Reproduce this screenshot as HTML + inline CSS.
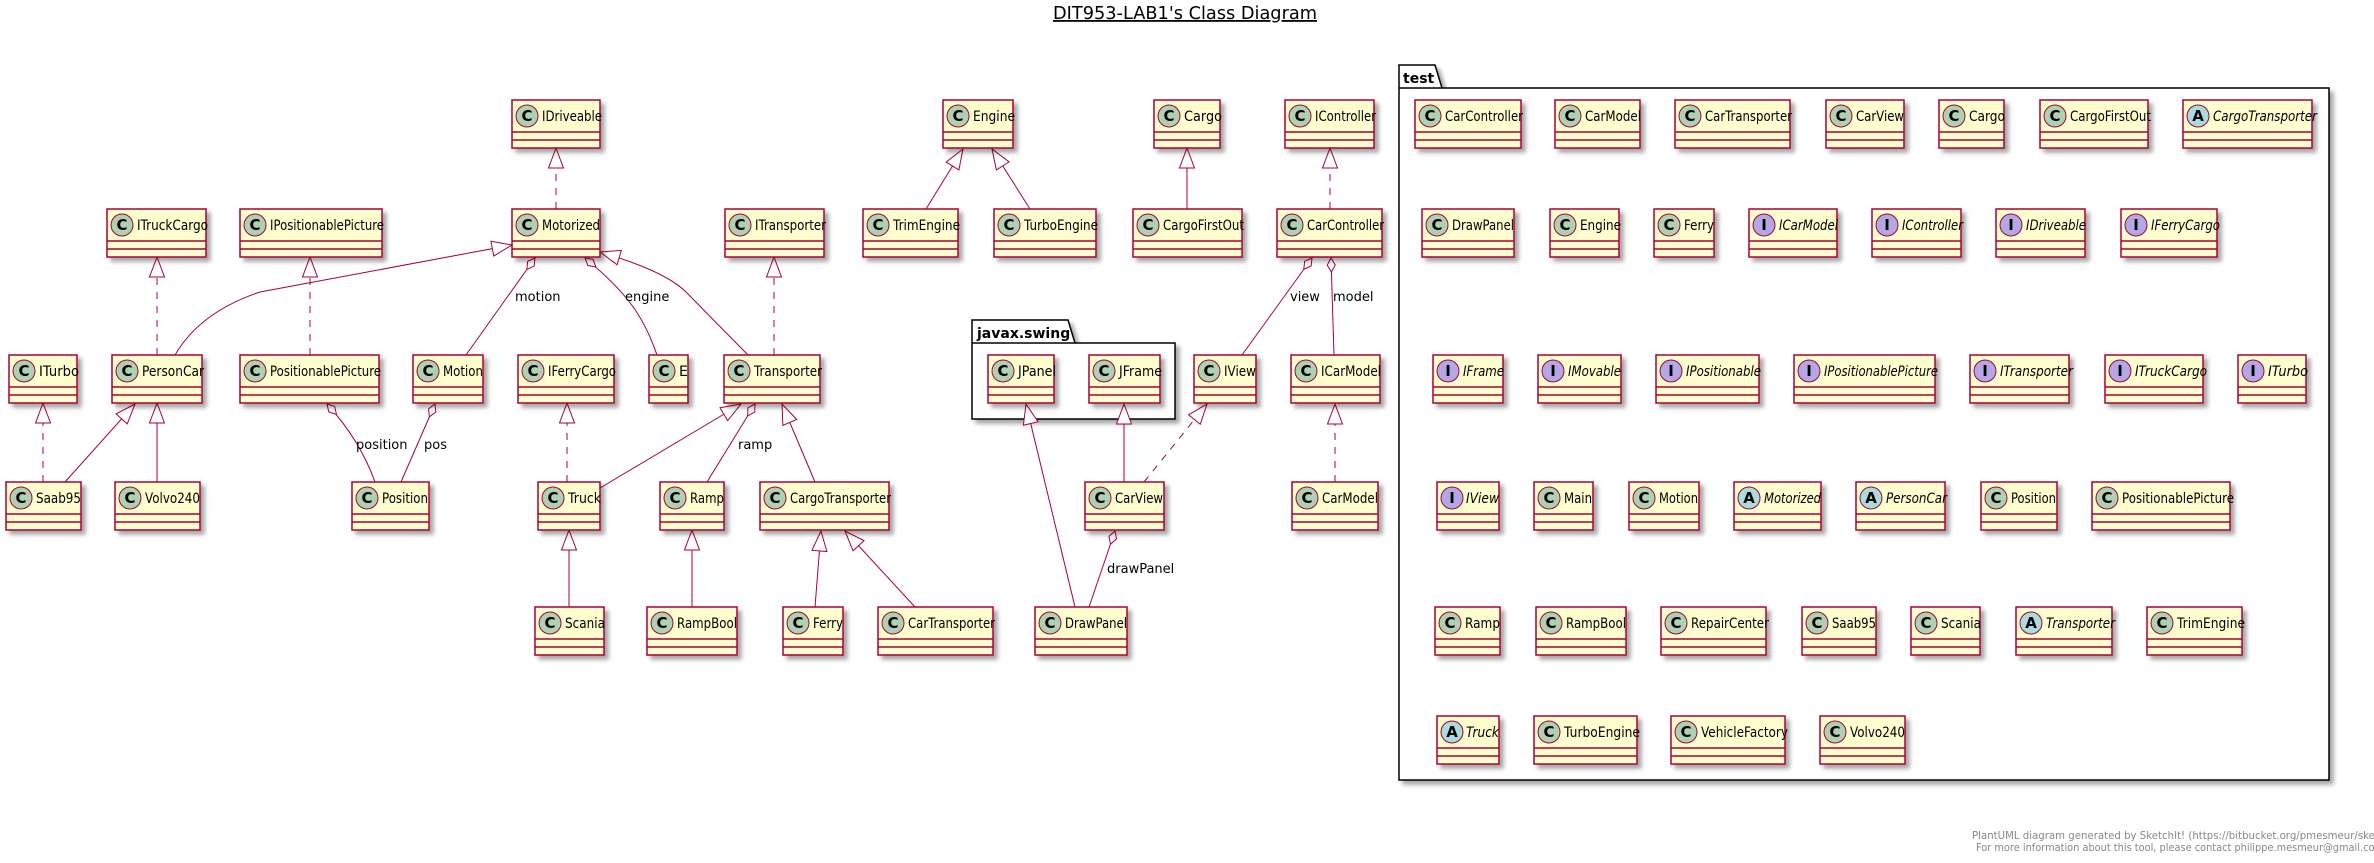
<!DOCTYPE html>
<html><head><meta charset="utf-8">
<style>
html,body{margin:0;padding:0;background:#fff;}
svg{display:block;}
.bx rect{fill:#FEFECE;stroke:#A80036;stroke-width:1.5;}
.bx line{stroke:#A80036;stroke-width:1.5;}
.n{font-family:"DejaVu Sans","Liberation Sans",sans-serif;font-size:14px;fill:#000;}
.it{font-style:italic;}
.ic{font-family:"DejaVu Sans","Liberation Sans",sans-serif;font-size:15px;font-weight:bold;fill:#000;text-anchor:middle;}
.e{fill:none;stroke:#A80036;stroke-width:1;}
.d{stroke-dasharray:7,7;}
.lb{font-family:"DejaVu Sans","Liberation Sans",sans-serif;font-size:13px;fill:#000;}
</style></head><body>
<svg width="2374" height="863" viewBox="0 0 2374 863" xmlns="http://www.w3.org/2000/svg">
<defs>
<filter id="sh" x="-10%" y="-10%" width="130%" height="140%"><feGaussianBlur in="SourceAlpha" stdDeviation="2"/><feOffset dx="4" dy="4"/><feComponentTransfer><feFuncA type="linear" slope="0.35"/></feComponentTransfer><feMerge><feMergeNode/><feMergeNode in="SourceGraphic"/></feMerge></filter>
<marker id="t" markerUnits="userSpaceOnUse" viewBox="-22 -10 24 20" refX="0" refY="0" markerWidth="24" markerHeight="20" orient="auto"><path d="M0,0 L-20,-7.5 L-20,7.5 Z" fill="#fff" stroke="#A80036" stroke-width="1"/></marker>
<marker id="dm" markerUnits="userSpaceOnUse" viewBox="-16 -6 18 12" refX="0" refY="0" markerWidth="18" markerHeight="12" orient="auto"><path d="M0,0 L-7,-4 L-14,0 L-7,4 Z" fill="#fff" stroke="#A80036" stroke-width="1"/></marker>
</defs>

<text x="1053" y="19" font-family="DejaVu Sans,Liberation Sans,sans-serif" font-size="18" textLength="264" lengthAdjust="spacingAndGlyphs" text-decoration="underline">DIT953-LAB1's Class Diagram</text>

<!-- packages -->
<g filter="url(#sh)">
<path d="M972,320 L1068,320 L1075,343 L1175,343 L1175,419 L972,419 Z" fill="#fff" stroke="#000" stroke-width="1.5"/>
<path d="M1399,65 L1435,65 L1442,88 L2329,88 L2329,780 L1399,780 Z" fill="#fff" stroke="#000" stroke-width="1.5"/>
</g>
<line x1="972" y1="343" x2="1075" y2="343" stroke="#000" stroke-width="1.5"/>
<line x1="1399" y1="88" x2="1442" y2="88" stroke="#000" stroke-width="1.5"/>
<text x="977" y="338" font-family="DejaVu Sans,Liberation Sans,sans-serif" font-size="14" font-weight="bold">javax.swing</text>
<text x="1403" y="83" font-family="DejaVu Sans,Liberation Sans,sans-serif" font-size="14" font-weight="bold">test</text>

<!-- edges -->
<g class="e">
<path class="d" d="M556,209 L556,148" marker-end="url(#t)"/>
<path class="d" d="M157,355 L157,257" marker-end="url(#t)"/>
<path class="d" d="M310,355 L310,257" marker-end="url(#t)"/>
<path d="M175,355 Q200,312 260,292 L512,245" marker-end="url(#t)"/>
<path d="M466,355 L535,258" marker-end="url(#dm)"/>
<path d="M657,355 C645,320 630,295 585,258" marker-end="url(#dm)"/>
<path d="M748,355 L686,292 Q665,271 600,252" marker-end="url(#t)"/>
<path class="d" d="M774,355 L774,257" marker-end="url(#t)"/>
<path class="d" d="M43,482 L43,403" marker-end="url(#t)"/>
<path d="M65,482 L135,404" marker-end="url(#t)"/>
<path d="M157,482 L157,403" marker-end="url(#t)"/>
<path d="M375,482 Q360,440 327,404" marker-end="url(#dm)"/>
<path d="M401,482 L435,404" marker-end="url(#dm)"/>
<path class="d" d="M567,482 L567,403" marker-end="url(#t)"/>
<path d="M600,488 L741,404" marker-end="url(#t)"/>
<path d="M707,482 L755,404" marker-end="url(#dm)"/>
<path d="M815,482 L782,404" marker-end="url(#t)"/>
<path d="M569,607 L569,530" marker-end="url(#t)"/>
<path d="M692,607 L692,530" marker-end="url(#t)"/>
<path d="M926,209 L963,149" marker-end="url(#t)"/>
<path d="M1030,209 L992,149" marker-end="url(#t)"/>
<path d="M1187,209 L1187,148" marker-end="url(#t)"/>
<path class="d" d="M1330,209 L1330,148" marker-end="url(#t)"/>
<path d="M1242,355 L1312,258" marker-end="url(#dm)"/>
<path d="M1334,355 L1331,258" marker-end="url(#dm)"/>
<path d="M1075,607 L1026,404" marker-end="url(#t)"/>
<path d="M1124,482 L1124,404" marker-end="url(#t)"/>
<path class="d" d="M1144,482 L1207,404" marker-end="url(#t)"/>
<path class="d" d="M1335,482 L1335,404" marker-end="url(#t)"/>
<path d="M1089,607 L1115,531" marker-end="url(#dm)"/>
<path d="M815,607 L821,531" marker-end="url(#t)"/>
<path d="M915,607 L845,531" marker-end="url(#t)"/>
</g>
<text class="lb" x="515" y="301">motion</text>
<text class="lb" x="625" y="301">engine</text>
<text class="lb" x="356" y="449">position</text>
<text class="lb" x="424" y="449">pos</text>
<text class="lb" x="738" y="449">ramp</text>
<text class="lb" x="1290" y="301">view</text>
<text class="lb" x="1333" y="301">model</text>
<text class="lb" x="1107" y="573">drawPanel</text>

<!-- main boxes -->
<g class="bx">
<!-- row1 y=100 -->
<rect x="512" y="100" width="88" height="48" filter="url(#sh)"/><line x1="512" y1="132" x2="600" y2="132"/><line x1="512" y1="140" x2="600" y2="140"/><circle cx="527" cy="116" r="11" fill="#ADD1B2" stroke="#A80036"/><text class="ic" x="527" y="121">C</text><text class="n" x="542" y="121" textLength="60" lengthAdjust="spacingAndGlyphs">IDriveable</text>
<rect x="943" y="100" width="70" height="48" filter="url(#sh)"/><line x1="943" y1="132" x2="1013" y2="132"/><line x1="943" y1="140" x2="1013" y2="140"/><circle cx="958" cy="116" r="11" fill="#ADD1B2" stroke="#A80036"/><text class="ic" x="958" y="121">C</text><text class="n" x="973" y="121" textLength="42" lengthAdjust="spacingAndGlyphs">Engine</text>
<rect x="1154" y="100" width="66" height="48" filter="url(#sh)"/><line x1="1154" y1="132" x2="1220" y2="132"/><line x1="1154" y1="140" x2="1220" y2="140"/><circle cx="1169" cy="116" r="11" fill="#ADD1B2" stroke="#A80036"/><text class="ic" x="1169" y="121">C</text><text class="n" x="1184" y="121" textLength="38" lengthAdjust="spacingAndGlyphs">Cargo</text>
<rect x="1285" y="100" width="89" height="48" filter="url(#sh)"/><line x1="1285" y1="132" x2="1374" y2="132"/><line x1="1285" y1="140" x2="1374" y2="140"/><circle cx="1300" cy="116" r="11" fill="#ADD1B2" stroke="#A80036"/><text class="ic" x="1300" y="121">C</text><text class="n" x="1315" y="121" textLength="61" lengthAdjust="spacingAndGlyphs">IController</text>
<!-- row2 y=209 -->
<rect x="107" y="209" width="99" height="48" filter="url(#sh)"/><line x1="107" y1="241" x2="206" y2="241"/><line x1="107" y1="249" x2="206" y2="249"/><circle cx="122" cy="225" r="11" fill="#ADD1B2" stroke="#A80036"/><text class="ic" x="122" y="230">C</text><text class="n" x="137" y="230" textLength="71" lengthAdjust="spacingAndGlyphs">ITruckCargo</text>
<rect x="240" y="209" width="142" height="48" filter="url(#sh)"/><line x1="240" y1="241" x2="382" y2="241"/><line x1="240" y1="249" x2="382" y2="249"/><circle cx="255" cy="225" r="11" fill="#ADD1B2" stroke="#A80036"/><text class="ic" x="255" y="230">C</text><text class="n" x="270" y="230" textLength="114" lengthAdjust="spacingAndGlyphs">IPositionablePicture</text>
<rect x="512" y="209" width="88" height="48" filter="url(#sh)"/><line x1="512" y1="241" x2="600" y2="241"/><line x1="512" y1="249" x2="600" y2="249"/><circle cx="527" cy="225" r="11" fill="#ADD1B2" stroke="#A80036"/><text class="ic" x="527" y="230">C</text><text class="n" x="542" y="230" textLength="58" lengthAdjust="spacingAndGlyphs">Motorized</text>
<rect x="725" y="209" width="99" height="48" filter="url(#sh)"/><line x1="725" y1="241" x2="824" y2="241"/><line x1="725" y1="249" x2="824" y2="249"/><circle cx="740" cy="225" r="11" fill="#ADD1B2" stroke="#A80036"/><text class="ic" x="740" y="230">C</text><text class="n" x="755" y="230" textLength="71" lengthAdjust="spacingAndGlyphs">ITransporter</text>
<rect x="863" y="209" width="95" height="48" filter="url(#sh)"/><line x1="863" y1="241" x2="958" y2="241"/><line x1="863" y1="249" x2="958" y2="249"/><circle cx="878" cy="225" r="11" fill="#ADD1B2" stroke="#A80036"/><text class="ic" x="878" y="230">C</text><text class="n" x="893" y="230" textLength="67" lengthAdjust="spacingAndGlyphs">TrimEngine</text>
<rect x="994" y="209" width="102" height="48" filter="url(#sh)"/><line x1="994" y1="241" x2="1096" y2="241"/><line x1="994" y1="249" x2="1096" y2="249"/><circle cx="1009" cy="225" r="11" fill="#ADD1B2" stroke="#A80036"/><text class="ic" x="1009" y="230">C</text><text class="n" x="1024" y="230" textLength="74" lengthAdjust="spacingAndGlyphs">TurboEngine</text>
<rect x="1133" y="209" width="109" height="48" filter="url(#sh)"/><line x1="1133" y1="241" x2="1242" y2="241"/><line x1="1133" y1="249" x2="1242" y2="249"/><circle cx="1148" cy="225" r="11" fill="#ADD1B2" stroke="#A80036"/><text class="ic" x="1148" y="230">C</text><text class="n" x="1163" y="230" textLength="81" lengthAdjust="spacingAndGlyphs">CargoFirstOut</text>
<rect x="1277" y="209" width="105" height="48" filter="url(#sh)"/><line x1="1277" y1="241" x2="1382" y2="241"/><line x1="1277" y1="249" x2="1382" y2="249"/><circle cx="1292" cy="225" r="11" fill="#ADD1B2" stroke="#A80036"/><text class="ic" x="1292" y="230">C</text><text class="n" x="1307" y="230" textLength="77" lengthAdjust="spacingAndGlyphs">CarController</text>
<!-- row3 y=355 -->
<rect x="9" y="355" width="68" height="48" filter="url(#sh)"/><line x1="9" y1="387" x2="77" y2="387"/><line x1="9" y1="395" x2="77" y2="395"/><circle cx="24" cy="371" r="11" fill="#ADD1B2" stroke="#A80036"/><text class="ic" x="24" y="376">C</text><text class="n" x="39" y="376" textLength="40" lengthAdjust="spacingAndGlyphs">ITurbo</text>
<rect x="112" y="355" width="90" height="48" filter="url(#sh)"/><line x1="112" y1="387" x2="202" y2="387"/><line x1="112" y1="395" x2="202" y2="395"/><circle cx="127" cy="371" r="11" fill="#ADD1B2" stroke="#A80036"/><text class="ic" x="127" y="376">C</text><text class="n" x="142" y="376" textLength="62" lengthAdjust="spacingAndGlyphs">PersonCar</text>
<rect x="240" y="355" width="139" height="48" filter="url(#sh)"/><line x1="240" y1="387" x2="379" y2="387"/><line x1="240" y1="395" x2="379" y2="395"/><circle cx="255" cy="371" r="11" fill="#ADD1B2" stroke="#A80036"/><text class="ic" x="255" y="376">C</text><text class="n" x="270" y="376" textLength="111" lengthAdjust="spacingAndGlyphs">PositionablePicture</text>
<rect x="413" y="355" width="70" height="48" filter="url(#sh)"/><line x1="413" y1="387" x2="483" y2="387"/><line x1="413" y1="395" x2="483" y2="395"/><circle cx="428" cy="371" r="11" fill="#ADD1B2" stroke="#A80036"/><text class="ic" x="428" y="376">C</text><text class="n" x="443" y="376" textLength="40" lengthAdjust="spacingAndGlyphs">Motion</text>
<rect x="518" y="355" width="96" height="48" filter="url(#sh)"/><line x1="518" y1="387" x2="614" y2="387"/><line x1="518" y1="395" x2="614" y2="395"/><circle cx="533" cy="371" r="11" fill="#ADD1B2" stroke="#A80036"/><text class="ic" x="533" y="376">C</text><text class="n" x="548" y="376" textLength="68" lengthAdjust="spacingAndGlyphs">IFerryCargo</text>
<rect x="649" y="355" width="39" height="48" filter="url(#sh)"/><line x1="649" y1="387" x2="688" y2="387"/><line x1="649" y1="395" x2="688" y2="395"/><circle cx="664" cy="371" r="11" fill="#ADD1B2" stroke="#A80036"/><text class="ic" x="664" y="376">C</text><text class="n" x="679" y="376">E</text>
<rect x="724" y="355" width="96" height="48" filter="url(#sh)"/><line x1="724" y1="387" x2="820" y2="387"/><line x1="724" y1="395" x2="820" y2="395"/><circle cx="739" cy="371" r="11" fill="#ADD1B2" stroke="#A80036"/><text class="ic" x="739" y="376">C</text><text class="n" x="754" y="376" textLength="68" lengthAdjust="spacingAndGlyphs">Transporter</text>
<rect x="988" y="355" width="66" height="48" filter="url(#sh)"/><line x1="988" y1="387" x2="1054" y2="387"/><line x1="988" y1="395" x2="1054" y2="395"/><circle cx="1003" cy="371" r="11" fill="#ADD1B2" stroke="#A80036"/><text class="ic" x="1003" y="376">C</text><text class="n" x="1018" y="376" textLength="38" lengthAdjust="spacingAndGlyphs">JPanel</text>
<rect x="1089" y="355" width="71" height="48" filter="url(#sh)"/><line x1="1089" y1="387" x2="1160" y2="387"/><line x1="1089" y1="395" x2="1160" y2="395"/><circle cx="1104" cy="371" r="11" fill="#ADD1B2" stroke="#A80036"/><text class="ic" x="1104" y="376">C</text><text class="n" x="1119" y="376" textLength="43" lengthAdjust="spacingAndGlyphs">JFrame</text>
<rect x="1194" y="355" width="62" height="48" filter="url(#sh)"/><line x1="1194" y1="387" x2="1256" y2="387"/><line x1="1194" y1="395" x2="1256" y2="395"/><circle cx="1209" cy="371" r="11" fill="#ADD1B2" stroke="#A80036"/><text class="ic" x="1209" y="376">C</text><text class="n" x="1224" y="376" textLength="32" lengthAdjust="spacingAndGlyphs">IView</text>
<rect x="1291" y="355" width="89" height="48" filter="url(#sh)"/><line x1="1291" y1="387" x2="1380" y2="387"/><line x1="1291" y1="395" x2="1380" y2="395"/><circle cx="1306" cy="371" r="11" fill="#ADD1B2" stroke="#A80036"/><text class="ic" x="1306" y="376">C</text><text class="n" x="1321" y="376" textLength="60" lengthAdjust="spacingAndGlyphs">ICarModel</text>
<!-- row4 y=482 -->
<rect x="6" y="482" width="75" height="48" filter="url(#sh)"/><line x1="6" y1="514" x2="81" y2="514"/><line x1="6" y1="522" x2="81" y2="522"/><circle cx="21" cy="498" r="11" fill="#ADD1B2" stroke="#A80036"/><text class="ic" x="21" y="503">C</text><text class="n" x="36" y="503" textLength="45" lengthAdjust="spacingAndGlyphs">Saab95</text>
<rect x="115" y="482" width="85" height="48" filter="url(#sh)"/><line x1="115" y1="514" x2="200" y2="514"/><line x1="115" y1="522" x2="200" y2="522"/><circle cx="130" cy="498" r="11" fill="#ADD1B2" stroke="#A80036"/><text class="ic" x="130" y="503">C</text><text class="n" x="145" y="503" textLength="55" lengthAdjust="spacingAndGlyphs">Volvo240</text>
<rect x="352" y="482" width="77" height="48" filter="url(#sh)"/><line x1="352" y1="514" x2="429" y2="514"/><line x1="352" y1="522" x2="429" y2="522"/><circle cx="367" cy="498" r="11" fill="#ADD1B2" stroke="#A80036"/><text class="ic" x="367" y="503">C</text><text class="n" x="382" y="503" textLength="46" lengthAdjust="spacingAndGlyphs">Position</text>
<rect x="538" y="482" width="62" height="48" filter="url(#sh)"/><line x1="538" y1="514" x2="600" y2="514"/><line x1="538" y1="522" x2="600" y2="522"/><circle cx="553" cy="498" r="11" fill="#ADD1B2" stroke="#A80036"/><text class="ic" x="553" y="503">C</text><text class="n" x="568" y="503" textLength="33" lengthAdjust="spacingAndGlyphs">Truck</text>
<rect x="660" y="482" width="64" height="48" filter="url(#sh)"/><line x1="660" y1="514" x2="724" y2="514"/><line x1="660" y1="522" x2="724" y2="522"/><circle cx="675" cy="498" r="11" fill="#ADD1B2" stroke="#A80036"/><text class="ic" x="675" y="503">C</text><text class="n" x="690" y="503" textLength="34" lengthAdjust="spacingAndGlyphs">Ramp</text>
<rect x="760" y="482" width="129" height="48" filter="url(#sh)"/><line x1="760" y1="514" x2="889" y2="514"/><line x1="760" y1="522" x2="889" y2="522"/><circle cx="775" cy="498" r="11" fill="#ADD1B2" stroke="#A80036"/><text class="ic" x="775" y="503">C</text><text class="n" x="790" y="503" textLength="101" lengthAdjust="spacingAndGlyphs">CargoTransporter</text>
<rect x="1085" y="482" width="79" height="48" filter="url(#sh)"/><line x1="1085" y1="514" x2="1164" y2="514"/><line x1="1085" y1="522" x2="1164" y2="522"/><circle cx="1100" cy="498" r="11" fill="#ADD1B2" stroke="#A80036"/><text class="ic" x="1100" y="503">C</text><text class="n" x="1115" y="503" textLength="48" lengthAdjust="spacingAndGlyphs">CarView</text>
<rect x="1292" y="482" width="86" height="48" filter="url(#sh)"/><line x1="1292" y1="514" x2="1378" y2="514"/><line x1="1292" y1="522" x2="1378" y2="522"/><circle cx="1307" cy="498" r="11" fill="#ADD1B2" stroke="#A80036"/><text class="ic" x="1307" y="503">C</text><text class="n" x="1322" y="503" textLength="56" lengthAdjust="spacingAndGlyphs">CarModel</text>
<!-- row5 y=607 -->
<rect x="535" y="607" width="69" height="48" filter="url(#sh)"/><line x1="535" y1="639" x2="604" y2="639"/><line x1="535" y1="647" x2="604" y2="647"/><circle cx="550" cy="623" r="11" fill="#ADD1B2" stroke="#A80036"/><text class="ic" x="550" y="628">C</text><text class="n" x="565" y="628" textLength="40" lengthAdjust="spacingAndGlyphs">Scania</text>
<rect x="647" y="607" width="90" height="48" filter="url(#sh)"/><line x1="647" y1="639" x2="737" y2="639"/><line x1="647" y1="647" x2="737" y2="647"/><circle cx="662" cy="623" r="11" fill="#ADD1B2" stroke="#A80036"/><text class="ic" x="662" y="628">C</text><text class="n" x="677" y="628" textLength="60" lengthAdjust="spacingAndGlyphs">RampBool</text>
<rect x="783" y="607" width="60" height="48" filter="url(#sh)"/><line x1="783" y1="639" x2="843" y2="639"/><line x1="783" y1="647" x2="843" y2="647"/><circle cx="798" cy="623" r="11" fill="#ADD1B2" stroke="#A80036"/><text class="ic" x="798" y="628">C</text><text class="n" x="813" y="628" textLength="30" lengthAdjust="spacingAndGlyphs">Ferry</text>
<rect x="878" y="607" width="115" height="48" filter="url(#sh)"/><line x1="878" y1="639" x2="993" y2="639"/><line x1="878" y1="647" x2="993" y2="647"/><circle cx="893" cy="623" r="11" fill="#ADD1B2" stroke="#A80036"/><text class="ic" x="893" y="628">C</text><text class="n" x="908" y="628" textLength="87" lengthAdjust="spacingAndGlyphs">CarTransporter</text>
<rect x="1035" y="607" width="92" height="48" filter="url(#sh)"/><line x1="1035" y1="639" x2="1127" y2="639"/><line x1="1035" y1="647" x2="1127" y2="647"/><circle cx="1050" cy="623" r="11" fill="#ADD1B2" stroke="#A80036"/><text class="ic" x="1050" y="628">C</text><text class="n" x="1065" y="628" textLength="62" lengthAdjust="spacingAndGlyphs">DrawPanel</text>
</g>

<!-- test package boxes -->
<g class="bx">
<!-- row A y=100 -->
<rect x="1415" y="100" width="106" height="48" filter="url(#sh)"/><line x1="1415" y1="132" x2="1521" y2="132"/><line x1="1415" y1="140" x2="1521" y2="140"/><circle cx="1430" cy="116" r="11" fill="#ADD1B2" stroke="#A80036"/><text class="ic" x="1430" y="121">C</text><text class="n" x="1445" y="121" textLength="78" lengthAdjust="spacingAndGlyphs">CarController</text>
<rect x="1555" y="100" width="85" height="48" filter="url(#sh)"/><line x1="1555" y1="132" x2="1640" y2="132"/><line x1="1555" y1="140" x2="1640" y2="140"/><circle cx="1570" cy="116" r="11" fill="#ADD1B2" stroke="#A80036"/><text class="ic" x="1570" y="121">C</text><text class="n" x="1585" y="121" textLength="56" lengthAdjust="spacingAndGlyphs">CarModel</text>
<rect x="1675" y="100" width="115" height="48" filter="url(#sh)"/><line x1="1675" y1="132" x2="1790" y2="132"/><line x1="1675" y1="140" x2="1790" y2="140"/><circle cx="1690" cy="116" r="11" fill="#ADD1B2" stroke="#A80036"/><text class="ic" x="1690" y="121">C</text><text class="n" x="1705" y="121" textLength="87" lengthAdjust="spacingAndGlyphs">CarTransporter</text>
<rect x="1826" y="100" width="78" height="48" filter="url(#sh)"/><line x1="1826" y1="132" x2="1904" y2="132"/><line x1="1826" y1="140" x2="1904" y2="140"/><circle cx="1841" cy="116" r="11" fill="#ADD1B2" stroke="#A80036"/><text class="ic" x="1841" y="121">C</text><text class="n" x="1856" y="121" textLength="48" lengthAdjust="spacingAndGlyphs">CarView</text>
<rect x="1939" y="100" width="65" height="48" filter="url(#sh)"/><line x1="1939" y1="132" x2="2004" y2="132"/><line x1="1939" y1="140" x2="2004" y2="140"/><circle cx="1954" cy="116" r="11" fill="#ADD1B2" stroke="#A80036"/><text class="ic" x="1954" y="121">C</text><text class="n" x="1969" y="121" textLength="36" lengthAdjust="spacingAndGlyphs">Cargo</text>
<rect x="2040" y="100" width="108" height="48" filter="url(#sh)"/><line x1="2040" y1="132" x2="2148" y2="132"/><line x1="2040" y1="140" x2="2148" y2="140"/><circle cx="2055" cy="116" r="11" fill="#ADD1B2" stroke="#A80036"/><text class="ic" x="2055" y="121">C</text><text class="n" x="2070" y="121" textLength="81" lengthAdjust="spacingAndGlyphs">CargoFirstOut</text>
<rect x="2183" y="100" width="129" height="48" filter="url(#sh)"/><line x1="2183" y1="132" x2="2312" y2="132"/><line x1="2183" y1="140" x2="2312" y2="140"/><circle cx="2198" cy="116" r="11" fill="#A9DCDF" stroke="#A80036"/><text class="ic" x="2198" y="121">A</text><text class="n it" x="2213" y="121" textLength="104" lengthAdjust="spacingAndGlyphs">CargoTransporter</text>
<!-- row B y=209 -->
<rect x="1422" y="209" width="92" height="48" filter="url(#sh)"/><line x1="1422" y1="241" x2="1514" y2="241"/><line x1="1422" y1="249" x2="1514" y2="249"/><circle cx="1437" cy="225" r="11" fill="#ADD1B2" stroke="#A80036"/><text class="ic" x="1437" y="230">C</text><text class="n" x="1452" y="230" textLength="62" lengthAdjust="spacingAndGlyphs">DrawPanel</text>
<rect x="1550" y="209" width="69" height="48" filter="url(#sh)"/><line x1="1550" y1="241" x2="1619" y2="241"/><line x1="1550" y1="249" x2="1619" y2="249"/><circle cx="1565" cy="225" r="11" fill="#ADD1B2" stroke="#A80036"/><text class="ic" x="1565" y="230">C</text><text class="n" x="1580" y="230" textLength="41" lengthAdjust="spacingAndGlyphs">Engine</text>
<rect x="1654" y="209" width="60" height="48" filter="url(#sh)"/><line x1="1654" y1="241" x2="1714" y2="241"/><line x1="1654" y1="249" x2="1714" y2="249"/><circle cx="1669" cy="225" r="11" fill="#ADD1B2" stroke="#A80036"/><text class="ic" x="1669" y="230">C</text><text class="n" x="1684" y="230" textLength="30" lengthAdjust="spacingAndGlyphs">Ferry</text>
<rect x="1749" y="209" width="88" height="48" filter="url(#sh)"/><line x1="1749" y1="241" x2="1837" y2="241"/><line x1="1749" y1="249" x2="1837" y2="249"/><circle cx="1764" cy="225" r="11" fill="#B4A7E5" stroke="#A80036"/><text class="ic" x="1764" y="230">I</text><text class="n it" x="1779" y="230" textLength="59" lengthAdjust="spacingAndGlyphs">ICarModel</text>
<rect x="1872" y="209" width="89" height="48" filter="url(#sh)"/><line x1="1872" y1="241" x2="1961" y2="241"/><line x1="1872" y1="249" x2="1961" y2="249"/><circle cx="1887" cy="225" r="11" fill="#B4A7E5" stroke="#A80036"/><text class="ic" x="1887" y="230">I</text><text class="n it" x="1902" y="230" textLength="61" lengthAdjust="spacingAndGlyphs">IController</text>
<rect x="1996" y="209" width="89" height="48" filter="url(#sh)"/><line x1="1996" y1="241" x2="2085" y2="241"/><line x1="1996" y1="249" x2="2085" y2="249"/><circle cx="2011" cy="225" r="11" fill="#B4A7E5" stroke="#A80036"/><text class="ic" x="2011" y="230">I</text><text class="n it" x="2026" y="230" textLength="60" lengthAdjust="spacingAndGlyphs">IDriveable</text>
<rect x="2121" y="209" width="96" height="48" filter="url(#sh)"/><line x1="2121" y1="241" x2="2217" y2="241"/><line x1="2121" y1="249" x2="2217" y2="249"/><circle cx="2136" cy="225" r="11" fill="#B4A7E5" stroke="#A80036"/><text class="ic" x="2136" y="230">I</text><text class="n it" x="2151" y="230" textLength="69" lengthAdjust="spacingAndGlyphs">IFerryCargo</text>
<!-- row C y=355 -->
<rect x="1433" y="355" width="70" height="48" filter="url(#sh)"/><line x1="1433" y1="387" x2="1503" y2="387"/><line x1="1433" y1="395" x2="1503" y2="395"/><circle cx="1448" cy="371" r="11" fill="#B4A7E5" stroke="#A80036"/><text class="ic" x="1448" y="376">I</text><text class="n it" x="1463" y="376" textLength="41" lengthAdjust="spacingAndGlyphs">IFrame</text>
<rect x="1538" y="355" width="83" height="48" filter="url(#sh)"/><line x1="1538" y1="387" x2="1621" y2="387"/><line x1="1538" y1="395" x2="1621" y2="395"/><circle cx="1553" cy="371" r="11" fill="#B4A7E5" stroke="#A80036"/><text class="ic" x="1553" y="376">I</text><text class="n it" x="1568" y="376" textLength="53" lengthAdjust="spacingAndGlyphs">IMovable</text>
<rect x="1656" y="355" width="103" height="48" filter="url(#sh)"/><line x1="1656" y1="387" x2="1759" y2="387"/><line x1="1656" y1="395" x2="1759" y2="395"/><circle cx="1671" cy="376" r="0" fill="none"/><circle cx="1671" cy="371" r="11" fill="#B4A7E5" stroke="#A80036"/><text class="ic" x="1671" y="376">I</text><text class="n it" x="1686" y="376" textLength="75" lengthAdjust="spacingAndGlyphs">IPositionable</text>
<rect x="1794" y="355" width="141" height="48" filter="url(#sh)"/><line x1="1794" y1="387" x2="1935" y2="387"/><line x1="1794" y1="395" x2="1935" y2="395"/><circle cx="1809" cy="371" r="11" fill="#B4A7E5" stroke="#A80036"/><text class="ic" x="1809" y="376">I</text><text class="n it" x="1824" y="376" textLength="114" lengthAdjust="spacingAndGlyphs">IPositionablePicture</text>
<rect x="1970" y="355" width="99" height="48" filter="url(#sh)"/><line x1="1970" y1="387" x2="2069" y2="387"/><line x1="1970" y1="395" x2="2069" y2="395"/><circle cx="1985" cy="371" r="11" fill="#B4A7E5" stroke="#A80036"/><text class="ic" x="1985" y="376">I</text><text class="n it" x="2000" y="376" textLength="73" lengthAdjust="spacingAndGlyphs">ITransporter</text>
<rect x="2105" y="355" width="98" height="48" filter="url(#sh)"/><line x1="2105" y1="387" x2="2203" y2="387"/><line x1="2105" y1="395" x2="2203" y2="395"/><circle cx="2120" cy="371" r="11" fill="#B4A7E5" stroke="#A80036"/><text class="ic" x="2120" y="376">I</text><text class="n it" x="2135" y="376" textLength="72" lengthAdjust="spacingAndGlyphs">ITruckCargo</text>
<rect x="2238" y="355" width="68" height="48" filter="url(#sh)"/><line x1="2238" y1="387" x2="2306" y2="387"/><line x1="2238" y1="395" x2="2306" y2="395"/><circle cx="2253" cy="371" r="11" fill="#B4A7E5" stroke="#A80036"/><text class="ic" x="2253" y="376">I</text><text class="n it" x="2268" y="376" textLength="40" lengthAdjust="spacingAndGlyphs">ITurbo</text>
<!-- row D y=482 -->
<rect x="1437" y="482" width="62" height="48" filter="url(#sh)"/><line x1="1437" y1="514" x2="1499" y2="514"/><line x1="1437" y1="522" x2="1499" y2="522"/><circle cx="1452" cy="498" r="11" fill="#B4A7E5" stroke="#A80036"/><text class="ic" x="1452" y="503">I</text><text class="n it" x="1466" y="503" textLength="33" lengthAdjust="spacingAndGlyphs">IView</text>
<rect x="1534" y="482" width="59" height="48" filter="url(#sh)"/><line x1="1534" y1="514" x2="1593" y2="514"/><line x1="1534" y1="522" x2="1593" y2="522"/><circle cx="1549" cy="498" r="11" fill="#ADD1B2" stroke="#A80036"/><text class="ic" x="1549" y="503">C</text><text class="n" x="1564" y="503" textLength="28" lengthAdjust="spacingAndGlyphs">Main</text>
<rect x="1629" y="482" width="70" height="48" filter="url(#sh)"/><line x1="1629" y1="514" x2="1699" y2="514"/><line x1="1629" y1="522" x2="1699" y2="522"/><circle cx="1644" cy="498" r="11" fill="#ADD1B2" stroke="#A80036"/><text class="ic" x="1644" y="503">C</text><text class="n" x="1659" y="503" textLength="39" lengthAdjust="spacingAndGlyphs">Motion</text>
<rect x="1734" y="482" width="87" height="48" filter="url(#sh)"/><line x1="1734" y1="514" x2="1821" y2="514"/><line x1="1734" y1="522" x2="1821" y2="522"/><circle cx="1749" cy="498" r="11" fill="#A9DCDF" stroke="#A80036"/><text class="ic" x="1749" y="503">A</text><text class="n it" x="1764" y="503" textLength="57" lengthAdjust="spacingAndGlyphs">Motorized</text>
<rect x="1856" y="482" width="89" height="48" filter="url(#sh)"/><line x1="1856" y1="514" x2="1945" y2="514"/><line x1="1856" y1="522" x2="1945" y2="522"/><circle cx="1871" cy="498" r="11" fill="#A9DCDF" stroke="#A80036"/><text class="ic" x="1871" y="503">A</text><text class="n it" x="1886" y="503" textLength="61" lengthAdjust="spacingAndGlyphs">PersonCar</text>
<rect x="1981" y="482" width="76" height="48" filter="url(#sh)"/><line x1="1981" y1="514" x2="2057" y2="514"/><line x1="1981" y1="522" x2="2057" y2="522"/><circle cx="1996" cy="498" r="11" fill="#ADD1B2" stroke="#A80036"/><text class="ic" x="1996" y="503">C</text><text class="n" x="2011" y="503" textLength="45" lengthAdjust="spacingAndGlyphs">Position</text>
<rect x="2092" y="482" width="138" height="48" filter="url(#sh)"/><line x1="2092" y1="514" x2="2230" y2="514"/><line x1="2092" y1="522" x2="2230" y2="522"/><circle cx="2107" cy="498" r="11" fill="#ADD1B2" stroke="#A80036"/><text class="ic" x="2107" y="503">C</text><text class="n" x="2122" y="503" textLength="112" lengthAdjust="spacingAndGlyphs">PositionablePicture</text>
<!-- row E y=607 -->
<rect x="1435" y="607" width="65" height="48" filter="url(#sh)"/><line x1="1435" y1="639" x2="1500" y2="639"/><line x1="1435" y1="647" x2="1500" y2="647"/><circle cx="1450" cy="623" r="11" fill="#ADD1B2" stroke="#A80036"/><text class="ic" x="1450" y="628">C</text><text class="n" x="1465" y="628" textLength="35" lengthAdjust="spacingAndGlyphs">Ramp</text>
<rect x="1536" y="607" width="90" height="48" filter="url(#sh)"/><line x1="1536" y1="639" x2="1626" y2="639"/><line x1="1536" y1="647" x2="1626" y2="647"/><circle cx="1551" cy="623" r="11" fill="#ADD1B2" stroke="#A80036"/><text class="ic" x="1551" y="628">C</text><text class="n" x="1566" y="628" textLength="60" lengthAdjust="spacingAndGlyphs">RampBool</text>
<rect x="1661" y="607" width="105" height="48" filter="url(#sh)"/><line x1="1661" y1="639" x2="1766" y2="639"/><line x1="1661" y1="647" x2="1766" y2="647"/><circle cx="1676" cy="623" r="11" fill="#ADD1B2" stroke="#A80036"/><text class="ic" x="1676" y="628">C</text><text class="n" x="1691" y="628" textLength="78" lengthAdjust="spacingAndGlyphs">RepairCenter</text>
<rect x="1802" y="607" width="74" height="48" filter="url(#sh)"/><line x1="1802" y1="639" x2="1876" y2="639"/><line x1="1802" y1="647" x2="1876" y2="647"/><circle cx="1817" cy="623" r="11" fill="#ADD1B2" stroke="#A80036"/><text class="ic" x="1817" y="628">C</text><text class="n" x="1832" y="628" textLength="44" lengthAdjust="spacingAndGlyphs">Saab95</text>
<rect x="1911" y="607" width="69" height="48" filter="url(#sh)"/><line x1="1911" y1="639" x2="1980" y2="639"/><line x1="1911" y1="647" x2="1980" y2="647"/><circle cx="1926" cy="623" r="11" fill="#ADD1B2" stroke="#A80036"/><text class="ic" x="1926" y="628">C</text><text class="n" x="1941" y="628" textLength="40" lengthAdjust="spacingAndGlyphs">Scania</text>
<rect x="2016" y="607" width="96" height="48" filter="url(#sh)"/><line x1="2016" y1="639" x2="2112" y2="639"/><line x1="2016" y1="647" x2="2112" y2="647"/><circle cx="2031" cy="623" r="11" fill="#A9DCDF" stroke="#A80036"/><text class="ic" x="2031" y="628">A</text><text class="n it" x="2046" y="628" textLength="69" lengthAdjust="spacingAndGlyphs">Transporter</text>
<rect x="2147" y="607" width="95" height="48" filter="url(#sh)"/><line x1="2147" y1="639" x2="2242" y2="639"/><line x1="2147" y1="647" x2="2242" y2="647"/><circle cx="2162" cy="623" r="11" fill="#ADD1B2" stroke="#A80036"/><text class="ic" x="2162" y="628">C</text><text class="n" x="2177" y="628" textLength="68" lengthAdjust="spacingAndGlyphs">TrimEngine</text>
<!-- row F y=716 -->
<rect x="1437" y="716" width="62" height="48" filter="url(#sh)"/><line x1="1437" y1="748" x2="1499" y2="748"/><line x1="1437" y1="756" x2="1499" y2="756"/><circle cx="1452" cy="732" r="11" fill="#A9DCDF" stroke="#A80036"/><text class="ic" x="1452" y="737">A</text><text class="n it" x="1466" y="737" textLength="33" lengthAdjust="spacingAndGlyphs">Truck</text>
<rect x="1534" y="716" width="103" height="48" filter="url(#sh)"/><line x1="1534" y1="748" x2="1637" y2="748"/><line x1="1534" y1="756" x2="1637" y2="756"/><circle cx="1549" cy="732" r="11" fill="#ADD1B2" stroke="#A80036"/><text class="ic" x="1549" y="737">C</text><text class="n" x="1564" y="737" textLength="76" lengthAdjust="spacingAndGlyphs">TurboEngine</text>
<rect x="1671" y="716" width="114" height="48" filter="url(#sh)"/><line x1="1671" y1="748" x2="1785" y2="748"/><line x1="1671" y1="756" x2="1785" y2="756"/><circle cx="1686" cy="732" r="11" fill="#ADD1B2" stroke="#A80036"/><text class="ic" x="1686" y="737">C</text><text class="n" x="1701" y="737" textLength="87" lengthAdjust="spacingAndGlyphs">VehicleFactory</text>
<rect x="1820" y="716" width="85" height="48" filter="url(#sh)"/><line x1="1820" y1="748" x2="1905" y2="748"/><line x1="1820" y1="756" x2="1905" y2="756"/><circle cx="1835" cy="732" r="11" fill="#ADD1B2" stroke="#A80036"/><text class="ic" x="1835" y="737">C</text><text class="n" x="1850" y="737" textLength="55" lengthAdjust="spacingAndGlyphs">Volvo240</text>
</g>

<text x="1972" y="839" font-family="DejaVu Sans,Liberation Sans,sans-serif" font-size="11" fill="#888888" textLength="433" lengthAdjust="spacingAndGlyphs">PlantUML diagram generated by SketchIt! (https://bitbucket.org/pmesmeur/sketch.it)</text>
<text x="1976" y="851" font-family="DejaVu Sans,Liberation Sans,sans-serif" font-size="11" fill="#888888" textLength="408" lengthAdjust="spacingAndGlyphs">For more information about this tool, please contact philippe.mesmeur@gmail.com</text>
</svg>
</body></html>
